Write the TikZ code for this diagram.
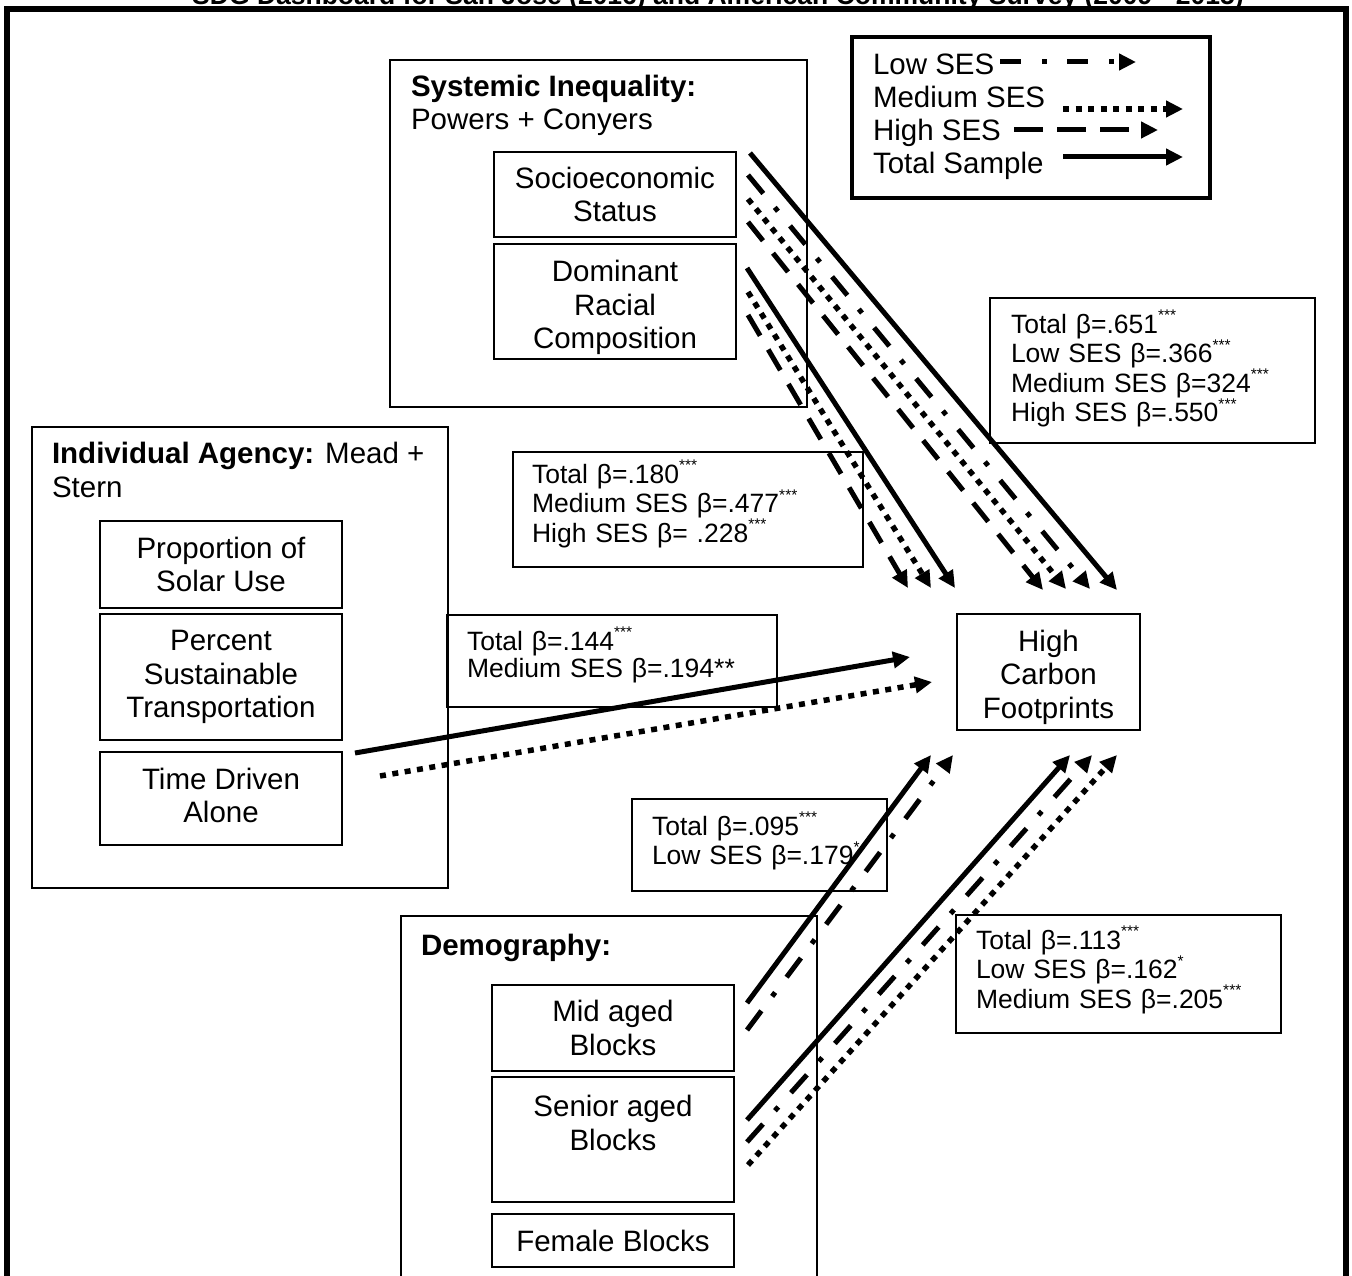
\documentclass[tikz,border=0pt]{standalone}
\usepackage{fontspec}
\setmainfont{Liberation Sans}
\usetikzlibrary{arrows.meta,calc}
\newcommand\mf{\fontsize{29.5}{33.5}\selectfont}
\newcommand\lf{\fontsize{26.5}{27.5}\selectfont}
\newcommand\pstar[1]{\raisebox{12.5pt}{\fontsize{15.5}{15.5}\selectfont #1}}
\tikzset{
  every node/.style={inner sep=0pt, outer sep=0pt},
  grp/.style={draw, line width=1.6pt, rectangle},
  vbox/.style={draw, line width=1.6pt, rectangle, align=center, font=\mf},
  lbox/.style={draw, line width=1.6pt, rectangle},
  ltext/.style={anchor=base west, align=left, font=\lf, text width=300pt},
  hdr/.style={anchor=base west, font=\mf},
  arr/.style={line width=5pt, -{Triangle[length=17pt,width=16pt]}},
  total/.style={arr},
  lowses/.style={arr, dash pattern=on 24pt off 18pt on 5pt off 19pt},
  medses/.style={arr, line width=5.5pt, dash pattern=on 6pt off 6.5pt},
  highses/.style={arr, dash pattern=on 24pt off 16pt}
}
\begin{document}
\begin{tikzpicture}[x=1pt,y=-1pt]
\useasboundingbox (0,0) rectangle (1352,1276);
\fill[white] (0,0) rectangle (1352,1276);

% title (cut by page top, as in the reference)
\node[anchor=base, font=\fontsize{26.5}{28}\selectfont\bfseries] (title) at (718,4.5)
  {SDG Dashboard for San Jose (2016) and American Community Survey (2009 - 2015)};
% outer frame
\draw[line width=6pt] (7,1300) -- (7,9) -- (1346,9) -- (1346,1300);

% group boxes
\node[grp, minimum width=417pt, minimum height=347pt] (sys) at (598.5,233.5) {};
\node[grp, minimum width=416pt, minimum height=461pt] (ind) at (240,657.5) {};
\node[grp, minimum width=416pt, minimum height=384pt] (dem) at (609,1108) {};

\node[hdr, font=\mf\bfseries] (systitle) at (411,97) {Systemic Inequality:};
\node[hdr] (sysauth) at (411,130) {Powers + Conyers};
\node[hdr] (indtitle) at (52,463) {\textbf{Individual Agency:} Mead +};
\node[hdr] (indtitle2) at (52,497) {Stern};
\node[hdr, font=\mf\bfseries] (demtitle) at (421,955) {Demography:};

% variable boxes
\node[vbox, minimum width=242pt, minimum height=85pt] (ses) at (615,194.5) {Socioeconomic\\Status};
\node[vbox, minimum width=242pt, minimum height=115pt] (race) at (615,301.5) {\rule{0pt}{33.5pt}Dominant\\Racial\\Composition};
\node[vbox, minimum width=242pt, minimum height=87pt] (prop) at (221,564.5) {Proportion of\\Solar Use};
\node[vbox, minimum width=242pt, minimum height=126pt] (perc) at (221,677) {Percent\\Sustainable\\Transportation};
\node[vbox, minimum width=242pt, minimum height=93pt] (time) at (221,798.5) {Time Driven\\Alone\rule[-6pt]{0pt}{6pt}};
\node[vbox, minimum width=183pt, minimum height=116pt] (hcf) at (1048.5,672) {\rule{0pt}{31.5pt}High\\Carbon\\Footprints};
\node[vbox, minimum width=242pt, minimum height=86pt] (mid) at (613,1028) {Mid aged\\Blocks};
\node[vbox, minimum width=242pt, minimum height=125pt] (senior) at (613,1139.5) {Senior aged\\Blocks\\\mbox{}};
\node[vbox, minimum width=242pt, minimum height=53pt] (female) at (613,1240.5) {Female Blocks};

% legend
\node[draw, line width=4pt, minimum width=358pt, minimum height=161pt] (legend) at (1031,117.5) {};
\node[hdr] (lg1) at (873,75) {Low SES};
\node[hdr] (lg2) at (873,108) {Medium SES};
\node[hdr] (lg3) at (873,141) {High SES};
\node[hdr] (lg4) at (873,174) {Total Sample};
\coordinate (lga) at (1000,62);  \coordinate (lgb) at (1136,62);
\coordinate (lgc) at (1063,109); \coordinate (lgd) at (1183,109);
\coordinate (lge) at (1014,130); \coordinate (lgf) at (1158,130);
\coordinate (lgg) at (1063,157); \coordinate (lgh) at (1183,157);
\draw[arr, dash pattern=on 21pt off 21pt on 5pt off 20pt] (lga) -- (lgb);
\draw[medses] (lgc) -- (lgd);
\draw[arr, dash pattern=on 29pt off 14pt] (lge) -- (lgf);
\draw[total] (lgg) -- (lgh);

% label boxes
\node[lbox, minimum width=325pt, minimum height=145pt] (l1) at (1152.5,370.5) {};
\node[ltext] (l1t) at ($(l1.north west)+(21,35)$)
  {Total β=.651\pstar{***}\\Low SES β=.366\pstar{***}\\Medium SES β=324\pstar{***}\\High SES β=.550\pstar{***}};
\node[lbox, minimum width=350pt, minimum height=115pt] (l2) at (688,509.5) {};
\node[ltext] (l2t) at ($(l2.north west)+(19,31)$)
  {Total β=.180\pstar{***}\\Medium SES β=.477\pstar{***}\\High SES β= .228\pstar{***}};
\node[lbox, minimum width=330pt, minimum height=92pt] (l3) at (612,661) {};
\node[ltext] (l3t) at ($(l3.north west)+(20,35)$)
  {Total β=.144\pstar{***}\\Medium SES β=.194**};
\node[lbox, minimum width=255pt, minimum height=92pt] (l4) at (759.5,845) {};
\node[ltext] (l4t) at ($(l4.north west)+(20,36)$)
  {Total β=.095\pstar{***}\\Low SES β=.179\pstar{*}};
\node[lbox, minimum width=325pt, minimum height=118pt] (l5) at (1118.5,974) {};
\node[ltext] (l5t) at ($(l5.north west)+(20,34)$)
  {Total β=.113\pstar{***}\\Low SES β=.162\pstar{*}\\Medium SES β=.205\pstar{***}};

% SES -> HCF
\draw[total]   ($(ses.east)+(14,-41.5)$) -- ($(hcf.north)+(68.5,-24)$);
\draw[lowses]  ($(ses.east)+(12,-19.5)$) -- ($(hcf.north)+(41.5,-25)$);
\draw[medses]  ($(ses.east)+(12,4.5)$)   -- ($(hcf.north)+(17.5,-25)$);
\draw[highses] ($(ses.east)+(12,27.5)$)  -- ($(hcf.north)+(-5.5,-24)$);
% Race -> HCF
\draw[total]   ($(race.east)+(11,-33.5)$) -- ($(hcf.north)+(-93.5,-26)$);
\draw[medses]  ($(race.east)+(12,-9.5)$)  -- ($(hcf.north)+(-117.5,-26)$);
\draw[highses] ($(race.east)+(12,13.5)$)  -- ($(hcf.north)+(-140.5,-26)$);
% Time -> HCF
\draw[total]   ($(time.east)+(13,-45.5)$) -- ($(hcf.west)+(-47,-15)$);
\draw[medses]  ($(time.east)+(38,-22.5)$) -- ($(hcf.west)+(-25,10)$);
% Mid aged -> HCF
\draw[total]   ($(mid.east)+(13,-25)$) -- ($(hcf.south)+(-117.5,25)$);
\draw[lowses]  ($(mid.east)+(13,2)$)   -- ($(hcf.south)+(-95.5,25)$);
% Senior -> HCF
\draw[total]   ($(senior.east)+(13,-19.5)$) -- ($(hcf.south)+(21.5,25)$);
\draw[lowses]  ($(senior.east)+(13,2.5)$)   -- ($(hcf.south)+(43.5,25)$);
\draw[medses]  ($(senior.east)+(14,25.5)$)  -- ($(hcf.south)+(68.5,25)$);
\end{tikzpicture}
\end{document}
